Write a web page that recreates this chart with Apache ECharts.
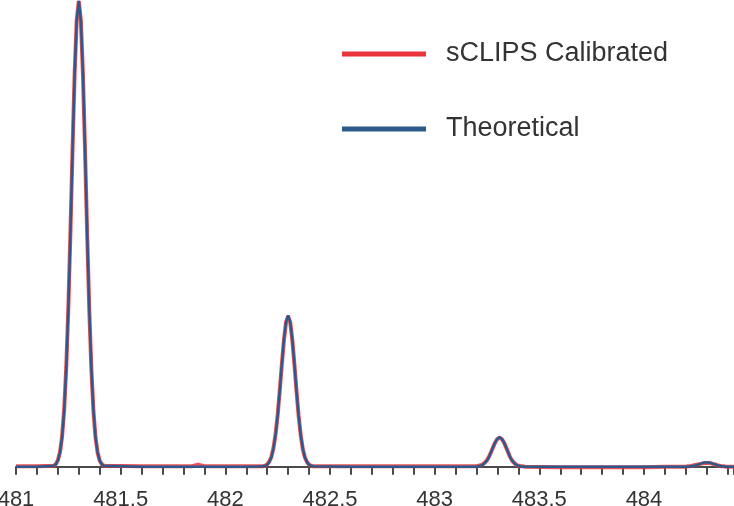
<!DOCTYPE html>
<html>
<head>
<meta charset="utf-8">
<script src="https://cdn.jsdelivr.net/npm/echarts@6/dist/echarts.min.js"></script>
<style>
html,body{margin:0;padding:0;background:#fff;}
#chart{width:734px;height:506px;}
</style>
</head>
<body>
<div id="chart"></div>
<script>
// m/z sample positions
const mz = [
  481.00, 481.10,
  481.18, 481.19, 481.20, 481.21, 481.22, 481.23, 481.24, 481.25, 481.26, 481.27, 481.28, 481.29, 481.30,
  481.31, 481.32, 481.33, 481.34, 481.35, 481.36, 481.37, 481.38, 481.39, 481.40, 481.41, 481.42,
  481.60, 481.84, 481.87, 481.90, 482.00, 482.10,
  482.18, 482.19, 482.20, 482.21, 482.22, 482.23, 482.24, 482.25, 482.26, 482.27, 482.28, 482.29, 482.30,
  482.31, 482.32, 482.33, 482.34, 482.35, 482.36, 482.37, 482.38, 482.39, 482.40, 482.41, 482.42,
  482.60, 483.00, 483.10,
  483.19, 483.20, 483.21, 483.22, 483.23, 483.24, 483.25, 483.26, 483.27, 483.28, 483.29, 483.30, 483.31,
  483.32, 483.33, 483.34, 483.35, 483.36, 483.37, 483.38, 483.39, 483.40, 483.41, 483.42, 483.43,
  483.60, 484.00, 484.10,
  484.18, 484.19, 484.20, 484.21, 484.22, 484.23, 484.24, 484.25, 484.26, 484.27, 484.28, 484.29, 484.30,
  484.31, 484.32, 484.33, 484.34, 484.35, 484.36, 484.37, 484.38, 484.39, 484.40, 484.41, 484.42,
  484.43
];

// Theoretical isotope profile (relative intensity, %)
const theoretical = [
  0, 0,
  0.2, 0.5, 1.3, 3.0, 6.3, 12.0, 21.1, 33.9, 50.1, 67.8, 84.1, 95.8, 100,
  95.8, 84.1, 67.8, 50.1, 33.9, 21.1, 12.0, 6.3, 3.0, 1.3, 0.5, 0.2,
  0, 0, 0, 0, 0, 0,
  0.1, 0.2, 0.4, 1.0, 2.0, 3.9, 6.9, 11.0, 16.3, 22.0, 27.3, 31.1, 32.5,
  31.1, 27.3, 22.0, 16.3, 11.0, 6.9, 3.9, 2.0, 1.0, 0.4, 0.2, 0.1,
  0, 0, 0,
  0, 0, 0.1, 0.2, 0.4, 0.8, 1.3, 2.1, 3.2, 4.3, 5.3, 6.0, 6.3,
  6.0, 5.3, 4.3, 3.2, 2.1, 1.3, 0.8, 0.4, 0.2, 0.1, 0, 0,
  0, 0, 0,
  0, 0, 0, 0, 0.1, 0.1, 0.2, 0.3, 0.5, 0.6, 0.8, 0.9, 0.9,
  0.9, 0.8, 0.6, 0.5, 0.3, 0.2, 0.1, 0.1, 0, 0, 0, 0,
  0
];

// sCLIPS calibrated measured profile (relative intensity, %)
const calibrated = [
  0.1, 0.1,
  0.2, 0.5, 1.4, 3.1, 6.4, 12.2, 21.3, 34.1, 50.3, 68.0, 84.3, 95.9, 100,
  95.7, 84.0, 67.6, 49.9, 33.7, 21.0, 11.9, 6.2, 3.0, 1.3, 0.5, 0.2,
  0.1, 0.1, 0.4, 0.1, 0.1, 0.1,
  0.1, 0.2, 0.5, 1.1, 2.1, 4.0, 7.0, 11.1, 16.4, 22.0, 27.2, 31.0, 32.3,
  31.0, 27.2, 22.0, 16.2, 10.9, 6.8, 3.8, 2.0, 1.0, 0.4, 0.2, 0.1,
  0.1, 0.1, 0.1,
  0.1, 0.1, 0.2, 0.3, 0.5, 0.9, 1.4, 2.2, 3.2, 4.3, 5.3, 6.0, 6.2,
  6.0, 5.3, 4.3, 3.2, 2.1, 1.3, 0.8, 0.4, 0.2, 0.1, 0.1, 0,
  -0.1, -0.1, 0,
  0, 0, 0, 0.1, 0.1, 0.2, 0.3, 0.4, 0.5, 0.6, 0.7, 0.8, 0.8,
  0.8, 0.7, 0.6, 0.5, 0.3, 0.2, 0.1, 0.1, 0, 0, 0, 0,
  0
];

const seriesNames = ['sCLIPS Calibrated', 'Theoretical'];
const xMin = 481, xMax = 484.43, xStep = 0.1;

const chart = echarts.init(document.getElementById('chart'), null, {renderer: 'canvas'});
const FONT = '"Liberation Sans", "DejaVu Sans", sans-serif';

chart.setOption({
  animation: false,
  backgroundColor: '#ffffff',
  grid: {left: 16, right: 0, top: 0, bottom: 37, containLabel: false, outerBoundsMode: 'none'},
  legend: {
    orient: 'vertical',
    left: 342,
    top: 39,
    padding: 0,
    itemWidth: 84,
    itemHeight: 5,
    itemGap: 45,
    icon: 'rect',
    data: seriesNames,
    textStyle: {fontFamily: FONT, fontSize: 27, color: '#333333', lineHeight: 30, padding: [0, 0, 0, 15]}
  },
  xAxis: {
    type: 'value',
    min: xMin,
    max: xMax,
    interval: xStep,
    splitLine: {show: false},
    axisLine: {show: true, lineStyle: {color: '#4a4a4a', width: 2}},
    axisTick: {show: true, length: 8, inside: false, lineStyle: {color: '#4a4a4a', width: 2}},
    axisLabel: {
      show: true,
      margin: 20,
      fontFamily: FONT,
      fontSize: 22,
      color: '#333333',
      showMinLabel: true,
      hideOverlap: false,
      formatter: function (v) {
        if (Math.abs(v * 2 - Math.round(v * 2)) < 1e-6) {
          return String(Math.round(v * 2) / 2);
        }
        return '';
      }
    }
  },
  yAxis: {
    type: 'value',
    min: -0.5,
    max: 100.2,
    show: false,
    splitLine: {show: false}
  },
  series: [
    {
      name: seriesNames[0],
      type: 'line',
      showSymbol: false,
      symbol: 'none',
      clip: false,
      color: '#e8343a',
      lineStyle: {color: '#e8343a', width: 4, opacity: 0.85},
      data: mz.map((x, i) => [x, calibrated[i]])
    },
    {
      name: seriesNames[1],
      type: 'line',
      showSymbol: false,
      symbol: 'none',
      clip: false,
      color: '#2d5a8c',
      lineStyle: {color: '#2d5a8c', width: 2.5},
      data: mz.map((x, i) => [x, theoretical[i]])
    }
  ]
});
</script>
</body>
</html>
